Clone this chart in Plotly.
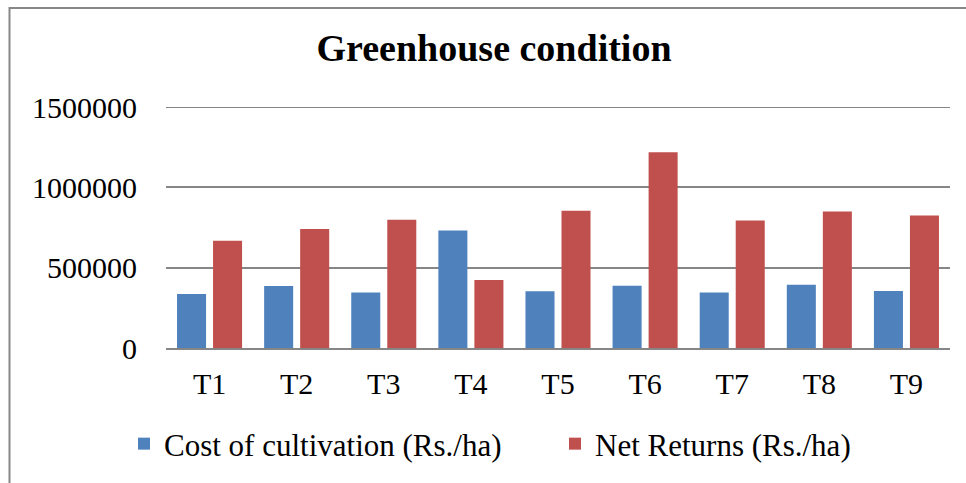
import plotly.graph_objects as go

categories = ["T1", "T2", "T3", "T4", "T5", "T6", "T7", "T8", "T9"]
cost_of_cultivation = [336000, 386000, 346000, 731000, 353000, 388000, 346000, 394000, 355000]
net_returns = [667000, 741000, 799000, 424000, 855000, 1219000, 793000, 849000, 824000]
y_ticks = [0, 500000, 1000000, 1500000]

FONT = "Liberation Serif, Times New Roman, serif"
GRID = "#868686"

fig = go.Figure()
fig.add_trace(go.Bar(x=categories, y=cost_of_cultivation, name="Cost of cultivation (Rs./ha)",
                     marker=dict(color="#4F81BD", line=dict(width=0))))
fig.add_trace(go.Bar(x=categories, y=net_returns, name="Net Returns (Rs./ha)",
                     marker=dict(color="#C0504D", line=dict(width=0))))

L, R, T, B = 166, 16, 107, 135
W, H = 966, 483
pw = W - L - R
ph = H - T - B

def px_x(x):
    return (x - L) / pw

def px_y(y):
    return (H - B - y) / ph

fig.update_layout(
    width=W, height=H,
    margin=dict(l=L, r=R, t=T, b=B, autoexpand=False),
    paper_bgcolor="white", plot_bgcolor="white",
    font=dict(family=FONT, size=30, color="black"),
    barmode="group", bargap=0.173, bargroupgap=0.194,
    title=dict(text="<b>Greenhouse condition</b>", font=dict(family=FONT, size=38, color="black"),
               x=494 / W, xref="container", xanchor="center",
               y=1 - 48 / H, yref="container", yanchor="middle"),
    xaxis=dict(showgrid=False, showline=True, linecolor=GRID, linewidth=2,
               ticks="", ticklabelstandoff=8, tickfont=dict(size=30), fixedrange=True),
    yaxis=dict(range=[0, max(y_ticks)], tickvals=y_ticks, ticktext=[str(v) for v in y_ticks],
               showgrid=True, gridcolor=GRID, gridwidth=2, zeroline=False,
               showline=False, ticks="", ticklabelstandoff=28, tickfont=dict(size=30)),
    legend=dict(orientation="h", x=px_x(124), xanchor="left", y=px_y(444), yanchor="middle",
                font=dict(size=31), entrywidth=386, entrywidthmode="pixels",
                bgcolor="rgba(0,0,0,0)"),
    showlegend=True,
    shapes=[
        dict(type="rect", xref="paper", yref="paper",
             x0=px_x(9.5), x1=px_x(1000), y0=px_y(8), y1=px_y(520),
             line=dict(color="#878787", width=2), fillcolor="rgba(0,0,0,0)", layer="below"),
        dict(type="line", xref="paper", yref="y", x0=0, x1=1, y0=max(y_ticks), y1=max(y_ticks),
             line=dict(color=GRID, width=2), layer="below"),
    ],
)

fig.write_html("out.html", config={"displayModeBar": False},
               post_script="document.body.style.margin='0';")
